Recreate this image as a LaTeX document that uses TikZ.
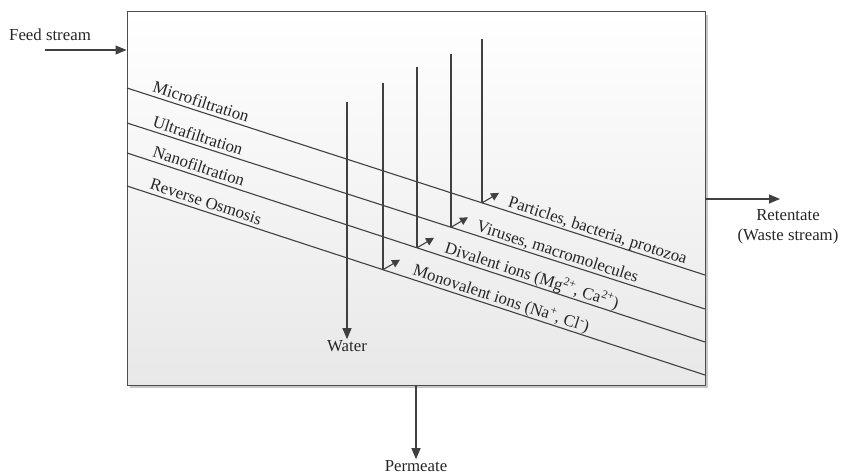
\documentclass[tikz,border=0pt]{standalone}
\usepackage{fontspec}
\setmainfont{Liberation Serif}
\usetikzlibrary{arrows.meta}
\begin{document}
\begin{tikzpicture}[x=1pt,y=-1pt,
  ln/.style={draw=black!75,line width=1.1pt},
  arr/.style={ln,-{Triangle[length=11pt,width=9pt]}},
  sarr/.style={ln,-{Triangle[length=8pt,width=8pt]}},
  lbl/.style={font=\fontsize{16.8}{20}\selectfont,text=black!85,inner sep=1pt},
  slbl/.style={lbl,sloped,anchor=south west,inner xsep=0pt,inner ysep=3.5pt,text depth=0pt},
  boxst/.style={draw=black!70,line width=1pt,top color=white,bottom color=black!9,
    minimum width=578pt,minimum height=373pt,inner sep=0pt},
]
\useasboundingbox (0,0) rectangle (841,476);
% shadow and box
\fill[black!22] (130,15) rectangle (708,388);
\node[boxst] (box) at (416,198.5) {};
% membrane lines
\coordinate (m1) at (127,88);  \coordinate (m1e) at (705,275);
\coordinate (m2) at (127,123); \coordinate (m2e) at (705,309);
\coordinate (m3) at (127,153); \coordinate (m3e) at (705,342);
\coordinate (m4) at (127,186); \coordinate (m4e) at (705,375);
\draw[ln] (m1) -- node[slbl,pos=0.04]{Microfiltration}
  node[slbl,pos=0.655]{Particles, bacteria, protozoa} (m1e);
\draw[ln] (m2) -- node[slbl,pos=0.04]{Ultrafiltration}
  node[slbl,pos=0.6]{Viruses, macromolecules} (m2e);
\draw[ln] (m3) -- node[slbl,pos=0.04]{Nanofiltration}
  node[slbl,pos=0.545]{Divalent ions (Mg\textsuperscript{2+}, Ca\textsuperscript{2+})} (m3e);
\draw[ln] (m4) -- node[slbl,pos=0.035]{Reverse Osmosis}
  node[slbl,pos=0.49]{Monovalent ions (Na\textsuperscript{+}, Cl\textsuperscript{-})} (m4e);
% vertical streams
\coordinate (wt) at (347,102);
\node[lbl] (water) at (347,346) {Water};
\draw[arr] (wt) -- (water.north);
\coordinate (t4) at (383,83);  \coordinate (e4) at (383,269.7);
\coordinate (t3) at (417,67);  \coordinate (e3) at (417,247.8);
\coordinate (t2) at (451,54);  \coordinate (e2) at (451,227.3);
\coordinate (t1) at (482,39);  \coordinate (e1) at (482,202.9);
\draw[ln] (t1) -- (e1); \draw[sarr] (e1) -- ++(17,-10);
\draw[ln] (t2) -- (e2); \draw[sarr] (e2) -- ++(17,-10);
\draw[ln] (t3) -- (e3); \draw[sarr] (e3) -- ++(17,-10);
\draw[ln] (t4) -- (e4); \draw[sarr] (e4) -- ++(17,-10);
% feed
\node[lbl] (feed) at (50,35) {Feed stream};
\coordinate (fs) at (45,50);
\draw[arr] (fs) -- (box.west |- fs);
% retentate
\coordinate (rs) at (705,199);
\node[lbl,align=center] (ret) at (788,227) {Retentate\\(Waste stream)};
\draw[arr] (rs) -- (780,199);
% permeate
\coordinate (ps) at (416,385);
\node[lbl] (perm) at (416,466) {Permeate};
\draw[arr] (ps) -- (perm.north);
\end{tikzpicture}
\end{document}
